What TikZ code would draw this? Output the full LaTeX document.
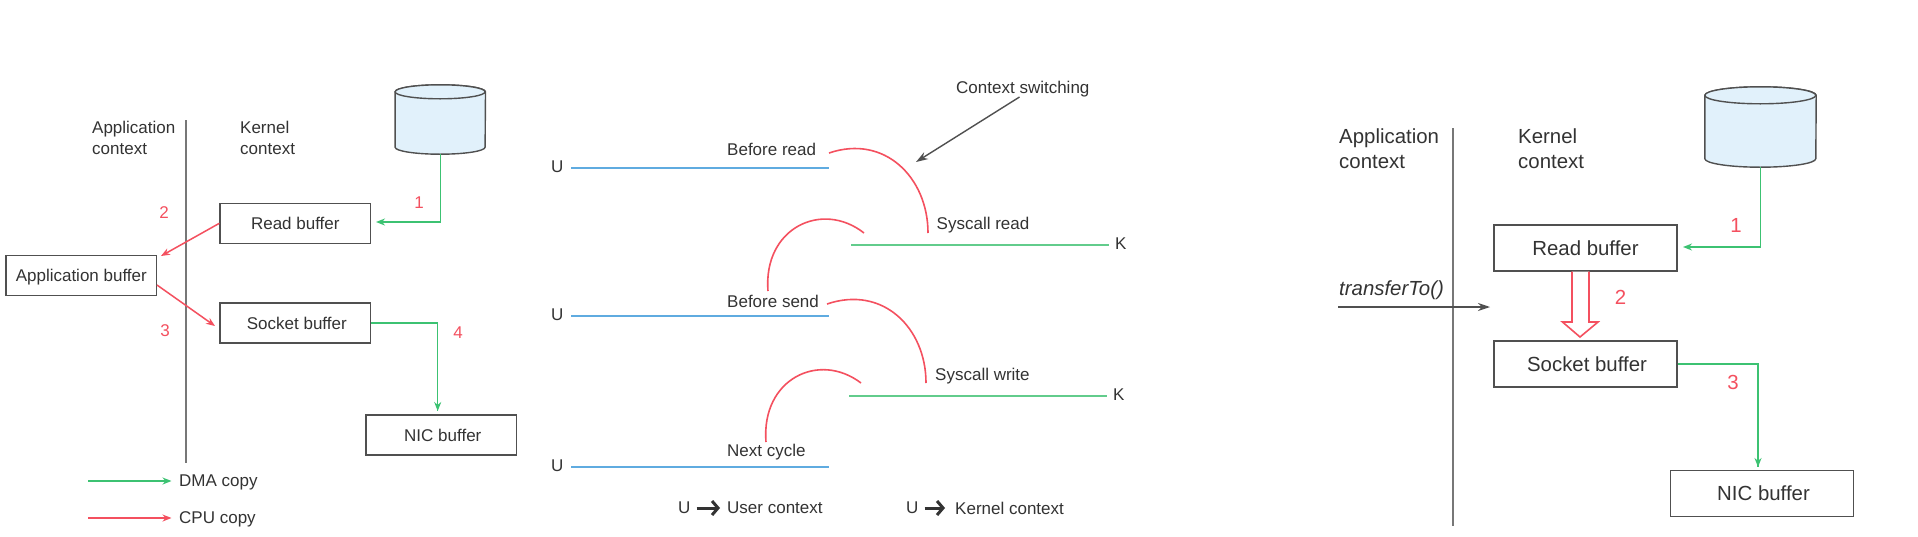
\documentclass[tikz,border=0pt]{standalone}
\usepackage{fontspec}
\setmainfont{Liberation Sans}
\usetikzlibrary{arrows.meta,calc}
\definecolor{txt}{HTML}{333333}
\definecolor{grn}{HTML}{3CC272}
\definecolor{grnl}{HTML}{62CC8C}
\definecolor{redl}{HTML}{F4505F}
\definecolor{blu}{HTML}{5FABE0}
\definecolor{diskfill}{HTML}{E1F1FB}
\definecolor{edge}{HTML}{505050}
\definecolor{wallc}{HTML}{777777}
\tikzset{
  x=1pt,y=-1pt,
  lbl/.style={font=\fontsize{17}{21}\selectfont,text=txt,inner sep=0pt,anchor=west,align=left},
  lblb/.style={font=\fontsize{20.4}{25}\selectfont,text=txt,inner sep=0pt,anchor=west,align=left},
  num/.style={font=\fontsize{17}{20}\selectfont,text=redl,inner sep=0pt},
  numb/.style={font=\fontsize{20.4}{24}\selectfont,text=redl,inner sep=0pt},
  buf/.style={draw=edge,line width=1.4pt,fill=white,minimum width=150.5pt,minimum height=40pt,inner sep=0pt,text depth=0pt,font=\fontsize{17}{20}\selectfont,text=txt},
  bufb/.style={draw=edge,line width=1.4pt,fill=white,minimum width=183pt,minimum height=46pt,inner sep=0pt,text depth=0pt,font=\fontsize{20.4}{24}\selectfont,text=txt},
  dma/.style={draw=grn,line width=1.5pt,-{Stealth[length=9pt,width=7pt]}},
  dmaline/.style={draw=grn,line width=1.5pt},
  cpu/.style={draw=redl,line width=1.5pt,-{Stealth[length=9pt,width=7pt]}},
  wall/.style={draw=wallc,line width=2pt},
  ulane/.style={draw=blu,line width=2.6pt},
  klane/.style={draw=grnl,line width=2.6pt},
  sw/.style={draw=redl,line width=1.6pt},
  disk/.style={inner sep=0pt},
  bigarrow/.style={draw=txt,line width=3pt,-{Straight Barb[length=6pt,width=14pt,line width=3pt]}},
  blackarrow/.style={draw=edge,line width=1.4pt,-{Stealth[length=12pt,width=8pt]}},
}
\newcommand{\drawdisk}[3]{% name, x radius, y radius
  \filldraw[draw=edge,line width=1.4pt,fill=diskfill]
    (#1.north west) ++(0,#3) -- ($(#1.south west)+(0,-#3)$)
    arc[start angle=180,end angle=360,x radius=#2,y radius=-#3]
    -- ($(#1.north east)+(0,#3)$)
    arc[start angle=0,end angle=180,x radius=#2,y radius=-#3] -- cycle;
  \draw[draw=edge,line width=1.4pt,fill=diskfill]
    ($(#1.north west)+(0,#3)$) arc[start angle=180,end angle=540,x radius=#2,y radius=#3];
}
\begin{document}
\begin{tikzpicture}
\useasboundingbox[fill=white] (0,0) rectangle (1918,536);

% ---------- left panel ----------
\node[disk,minimum width=90pt,minimum height=69pt] (d1) at (440.3,119.5) {};
\drawdisk{d1}{45}{7}
\coordinate (w1a) at (186,120); \coordinate (w1b) at (186,463);
\draw[wall] (w1a) -- (w1b);
\node[lbl] (appc1) at (92,138) {Application\\context};
\node[lbl] (kerc1) at (240,138) {Kernel\\context};
\node[buf] (read1) at (295.3,223.3) {Read buffer};
\node[buf] (app1) at (81.3,275.5) {Application buffer};
\node[buf] (sock1) at (295.3,323) {\hspace*{3pt}Socket buffer};
\node[buf] (nic1) at (441.3,435) {\hspace*{3pt}NIC buffer};
\coordinate (r1in) at (376,222);
\draw[dma] (d1.south) |- (r1in);
\coordinate (a1in) at (161,256);
\draw[cpu] (read1.west) -- (a1in);
\coordinate (a1out) at (157,285);
\coordinate (s1in) at (215,326);
\draw[cpu] (a1out) -- (s1in);
\coordinate (n1in) at (437.7,411);
\draw[dmaline] (sock1.east) -| (n1in);
\draw[dma] (437.7,380) -- (n1in);
\node[num] (n11) at (419,203) {1};
\node[num] (n12) at (164,213) {2};
\node[num] (n13) at (165,331) {3};
\node[num] (n14) at (458,333) {4};
\coordinate (lg1) at (88,481); \coordinate (lg2) at (88,518);
\node[lbl] (ldma) at (179,482) {DMA copy};
\node[lbl] (lcpu) at (179,519) {CPU copy};
\draw[dma] (lg1) -- (171.5,481);
\draw[cpu] (lg2) -- (171.5,518);

% ---------- middle panel ----------
\node[lbl] (cs) at (956,89) {Context switching};
\coordinate (csa) at (1019.5,97); \coordinate (csb) at (916,162);
\draw[blackarrow] (csa) -- (csb);
\node[lbl] (u1) at (551,167) {U};
\node[lbl] (u2) at (551,315) {U};
\node[lbl] (u3) at (551,466) {U};
\node[lbl] (k1) at (1115,244) {K};
\node[lbl] (k2) at (1113,395) {K};
\coordinate (b1) at (571,168); \coordinate (b1e) at (829,168);
\coordinate (b2) at (571,316); \coordinate (b2e) at (829,316);
\coordinate (b3) at (571,467); \coordinate (b3e) at (829,467);
\coordinate (g1) at (851,245); \coordinate (g1e) at (1109,245);
\coordinate (g2) at (849,396); \coordinate (g2e) at (1107,396);
\draw[ulane] (b1) -- (b1e); \draw[ulane] (b2) -- (b2e); \draw[ulane] (b3) -- (b3e);
\draw[klane] (g1) -- (g1e); \draw[klane] (g2) -- (g2e);
\node[lbl] (t1) at (727,149) {Before read};
\node[lbl] (t2) at (936.5,225) {Syscall read};
\node[lbl] (t3) at (727,301) {Before send};
\node[lbl] (t4) at (935,376) {Syscall write};
\node[lbl] (t5) at (727,452.5) {Next cycle};
\coordinate (c1a) at (829,153); \coordinate (c1b) at (928,233);
\coordinate (c2a) at (864,233); \coordinate (c2b) at (768,291);
\coordinate (c3a) at (827,304); \coordinate (c3b) at (926,383);
\coordinate (c4a) at (861,383); \coordinate (c4b) at (766,442);
\draw[sw] (c1a) .. controls (885,134) and (928,178) .. (c1b);
\draw[sw] (c2a) .. controls (822,200) and (763,228) .. (c2b);
\draw[sw] (c3a) .. controls (883,285) and (926,328) .. (c3b);
\draw[sw] (c4a) .. controls (819,351) and (761,379) .. (c4b);
\node[lbl] (lu1) at (678,508) {U};
\node[lbl] (lu2) at (727,508) {User context};
\node[lbl] (lk1) at (906,508) {U};
\node[lbl] (lk2) at (955,508) {Kernel context};
\draw[bigarrow] ([xshift=6pt]lu1.east) -- ([xshift=-7pt]lu2.west);
\draw[bigarrow] ([xshift=6pt]lk1.east) -- ([xshift=-10pt]lk2.west);

% ---------- right panel ----------
\node[disk,minimum width=111pt,minimum height=80pt] (d2) at (1760.5,127) {};
\drawdisk{d2}{55.5}{8.5}
\coordinate (w2a) at (1453,128); \coordinate (w2b) at (1453,526);
\draw[wall] (w2a) -- (w2b);
\node[lblb] (appc2) at (1339,149) {Application\\context};
\node[lblb] (kerc2) at (1518,149) {Kernel\\context};
\node[bufb] (read2) at (1585.5,248) {Read buffer};
\node[bufb] (sock2) at (1585.5,364) {\hspace*{3pt}Socket buffer};
\node[bufb] (nic2) at (1762,493.5) {\hspace*{3pt}NIC buffer};
\coordinate (r2in) at (1683,247);
\draw[dma] (d2.south) |- (r2in);
\coordinate (n2in) at (1758,467);
\draw[dmaline] (sock2.east) -| (n2in);
\draw[dma] (1758,440) -- (n2in);
\node[numb] (n21) at (1736,225) {1};
\node[numb] (n22) at (1620.5,297) {2};
\node[numb] (n23) at (1733,382) {3};
\node[lblb,font=\fontsize{20.4}{25}\selectfont\itshape] (tt) at (1339,290) {transferTo()};
\coordinate (tra) at (1338,307); \coordinate (trb) at (1490,307);
\draw[blackarrow] (tra) -- (trb);
\draw[draw=redl,line width=1.6pt,fill=white,line join=miter]
  (read2.south -| 1572,0) -- (1572,322) -- (1562.5,322) -- (1580,337) -- (1598,322) -- (1589,322) -- (read2.south -| 1589,0);
\end{tikzpicture}
\end{document}
